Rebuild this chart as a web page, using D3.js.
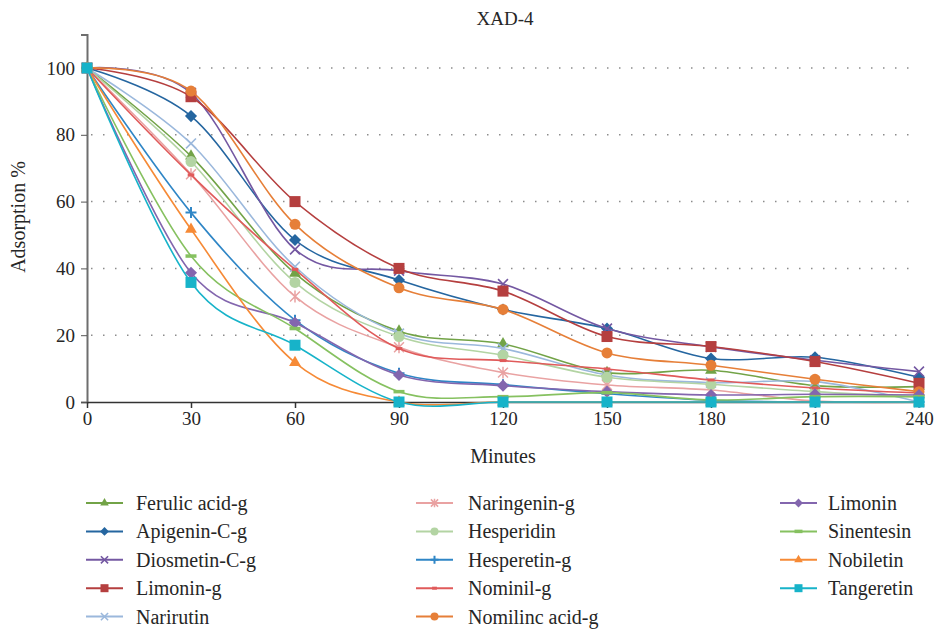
<html lang="en">
<head>
<meta charset="utf-8">
<title>XAD-4</title>
<script src="https://d3js.org/d3.v7.min.js"></script>
<style>
  body { margin: 0; background: #fff; }
</style>
</head>
<body>
<script>
var width = 937;
var height = 629;
var serif = "'Liberation Serif', 'DejaVu Serif', serif";

// data
var minutes = [0, 30, 60, 90, 120, 150, 180, 210, 240];
var yTicks = [0, 20, 40, 60, 80, 100];

var names = ["Ferulic acid-g", "Apigenin-C-g", "Diosmetin-C-g", "Limonin-g", "Narirutin",
             "Naringenin-g", "Hesperidin", "Hesperetin-g", "Nominil-g", "Nomilinc acid-g",
             "Limonin", "Sinentesin", "Nobiletin", "Tangeretin"];

var ferulic     = [100, 73.6, 38.5, 21.2, 17.4, 8.8, 9.5, 4.9, 4.6];
var apigenin    = [100, 85.6, 48.5, 36.5, 27.7, 22.0, 13.0, 13.4, 7.4];
var diosmetin   = [100, 92.5, 45.7, 39.3, 35.3, 22.0, 16.5, 12.5, 9.1];
var limoning    = [100, 91.4, 60.0, 40.0, 33.2, 19.6, 16.6, 12.1, 5.6];
var narirutin   = [100, 77.4, 40.5, 20.5, 16.0, 8.1, 5.8, 6.1, 0];
var naringenin  = [100, 68.2, 31.6, 16.4, 8.8, 5.1, 3.6, 0.3, 0];
var hesperidin  = [100, 72.0, 35.8, 19.6, 14.0, 7.4, 5.3, 3.1, 1.5];
var hesperetin  = [100, 56.7, 24.5, 8.6, 5.2, 2.5, 0.5, 0, 0];
var nominil     = [100, 68.0, 39.7, 16.0, 12.4, 9.9, 6.6, 4.2, 2.7];
var nomilinc    = [100, 93.1, 53.2, 34.2, 27.7, 14.7, 11.0, 6.8, 3.1];
var limonin     = [100, 38.7, 23.7, 8.1, 4.9, 3.1, 2.1, 2.3, 2.1];
var sinentesin  = [100, 43.7, 22.0, 3.1, 1.6, 2.8, 0.6, 1.6, 1.6];
var nobiletin   = [100, 51.7, 11.8, 0, 0, 0, 0, 0, 0];
var tangeretin  = [100, 35.8, 17.0, 0, 0, 0, 0, 0, 0];

var values = [ferulic, apigenin, diosmetin, limoning, narirutin, naringenin, hesperidin,
              hesperetin, nominil, nomilinc, limonin, sinentesin, nobiletin, tangeretin];

var colors = ["#72a347", "#2566a0", "#7458a2", "#b53f3f", "#9bb8dc", "#e9a2a2", "#b3d4a3",
              "#2f86c6", "#e05a5a", "#e67f38", "#8366ae", "#86c160", "#f68a36", "#17b3c9"];
var shapes = ["triangle", "diamond", "cross", "square", "cross", "star", "circle",
              "plus", "dash", "circle", "diamond", "wdash", "triangle", "square"];

var svg = d3.select("body").append("svg")
    .attr("width", width)
    .attr("height", height)
    .style("font-family", serif);

var x = d3.scaleLinear().domain([0, 240]).range([87, 919]);
var y = d3.scaleLinear().domain([0, 110]).range([402, 34.6]);

function label(sel, size) {
    return sel.style("font-family", serif).style("font-size", size + "px").style("fill", "#262626");
}

// title
label(svg.append("text"), 19)
    .attr("x", 505).attr("y", 25)
    .attr("text-anchor", "middle")
    .text("XAD-4");

// dotted grid
svg.append("g")
    .selectAll("line")
    .data(yTicks.filter(function(d) { return d > 0; }))
    .enter().append("line")
    .attr("x1", x(0) + 4).attr("x2", x(240))
    .attr("y1", function(d) { return y(d); })
    .attr("y2", function(d) { return y(d); })
    .attr("stroke", "#8c8c8c")
    .attr("stroke-width", 1.5)
    .attr("stroke-dasharray", "1.5,10.5");

// y axis
var yAxis = svg.append("g")
    .attr("transform", "translate(" + x(0) + ",0)")
    .call(d3.axisLeft(y).tickValues(yTicks).tickSize(6).tickPadding(6));
yAxis.attr("font-family", null);
yAxis.select(".domain").attr("stroke", "#6e6e6e").attr("stroke-width", 2);
yAxis.selectAll(".tick line").attr("stroke", "#555");
label(yAxis.selectAll(".tick text"), 19);

// x axis
var xAxis = svg.append("g")
    .attr("transform", "translate(0," + y(0) + ")")
    .call(d3.axisBottom(x).tickValues(minutes).tickSize(6).tickPadding(4).tickSizeOuter(0));
xAxis.attr("font-family", null);
xAxis.select(".domain").attr("stroke", "#333").attr("stroke-width", 1.5);
xAxis.selectAll(".tick line").attr("stroke", "#333").attr("stroke-width", 1.5);
label(xAxis.selectAll(".tick text"), 19);

label(svg.append("text"), 20)
    .attr("x", 503).attr("y", 463)
    .attr("text-anchor", "middle")
    .text("Minutes");

label(svg.append("text"), 20)
    .attr("transform", "translate(25,217) rotate(-90)")
    .attr("text-anchor", "middle")
    .text("Adsorption %");

// markers
function marker(g, shape, color, s) {
    if (shape === "triangle") {
        g.append("path").attr("d", d3.symbol(d3.symbolTriangle, s * s * 0.5)()).attr("fill", color);
    } else if (shape === "diamond") {
        var r = s * 0.55;
        g.append("path").attr("d", "M0," + (-r) + "L" + r + ",0L0," + r + "L" + (-r) + ",0Z").attr("fill", color);
    } else if (shape === "square") {
        g.append("rect").attr("x", -s / 2).attr("y", -s / 2).attr("width", s).attr("height", s).attr("fill", color);
    } else if (shape === "circle") {
        g.append("circle").attr("r", s / 2).attr("fill", color);
    } else if (shape === "cross") {
        var c = s * 0.45;
        g.append("path").attr("d", "M" + (-c) + "," + (-c) + "L" + c + "," + c + "M" + (-c) + "," + c + "L" + c + "," + (-c))
            .attr("stroke", color).attr("stroke-width", 1.6).attr("fill", "none");
    } else if (shape === "star") {
        var a = s * 0.45;
        g.append("path").attr("d", "M" + (-a) + "," + (-a) + "L" + a + "," + a + "M" + (-a) + "," + a + "L" + a + "," + (-a) + "M0," + (-a * 1.2) + "L0," + (a * 1.2))
            .attr("stroke", color).attr("stroke-width", 1.5).attr("fill", "none");
    } else if (shape === "plus") {
        var p = s * 0.5;
        g.append("path").attr("d", "M" + (-p) + ",0L" + p + ",0M0," + (-p) + "L0," + p)
            .attr("stroke", color).attr("stroke-width", 2).attr("fill", "none");
    } else if (shape === "dash") {
        g.append("rect").attr("x", -s * 0.3).attr("y", -1.5).attr("width", s * 0.6).attr("height", 3).attr("fill", color);
    } else if (shape === "wdash") {
        g.append("rect").attr("x", -s * 0.5).attr("y", -1.75).attr("width", s).attr("height", 3.5).attr("fill", color);
    }
}

var line = d3.line()
    .x(function(d, i) { return x(minutes[i]); })
    .y(function(d) { return y(d); })
    .curve(d3.curveCardinal.tension(0));

var series = svg.append("g").selectAll("g")
    .data(values)
    .enter().append("g");

series.append("path")
    .attr("d", function(d) { return line(d); })
    .attr("fill", "none")
    .attr("stroke", function(d, i) { return colors[i]; })
    .attr("stroke-width", 1.6);

series.each(function(d, i) {
    var grp = d3.select(this);
    d.forEach(function(v, j) {
        var m = grp.append("g").attr("transform", "translate(" + x(minutes[j]) + "," + y(v) + ")");
        marker(m, shapes[i], colors[i], 11);
    });
});

// legend, three columns
var legCols = [{lx: 86, tx: 136, n: 5}, {lx: 416, tx: 468, n: 5}, {lx: 780, tx: 828, n: 4}];
var idx = 0;
legCols.forEach(function(col) {
    for (var k = 0; k < col.n; k++, idx++) {
        var ly = 503 + k * 28.4;
        var lg = svg.append("g");
        lg.append("line")
            .attr("x1", col.lx).attr("x2", col.lx + 37)
            .attr("y1", ly).attr("y2", ly)
            .attr("stroke", colors[idx]).attr("stroke-width", 2);
        var m = lg.append("g").attr("transform", "translate(" + (col.lx + 18.5) + "," + ly + ")");
        marker(m, shapes[idx], colors[idx], 8);
        label(lg.append("text"), 20)
            .attr("x", col.tx).attr("y", ly + 7)
            .text(names[idx]);
    }
});
</script>
</body>
</html>
